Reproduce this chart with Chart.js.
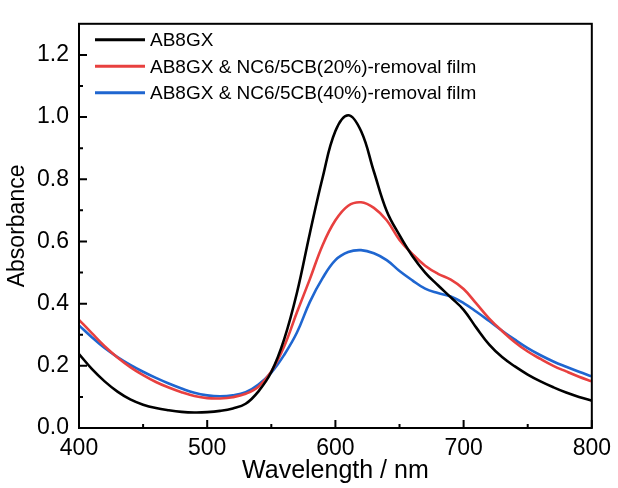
<!DOCTYPE html>
<html>
<head>
<meta charset="utf-8">
<script src="https://cdn.jsdelivr.net/npm/chart.js@4.4.1/dist/chart.umd.min.js"></script>
<style>
html,body{margin:0;padding:0;background:#fff;}
#wrap{width:618px;height:488px;}
</style>
</head>
<body>
<div id="wrap"><canvas id="c" width="618" height="488"></canvas></div>
<script>
// ---- data ----
const wavelength = [400,410,420,430,440,450,460,470,480,490,500,510,520,530,540,550,560,570,580,590,600,610,620,630,640,650,660,670,680,690,700,710,720,730,740,750,760,770,780,790,800];
const ab8gx = [0.238,0.190,0.150,0.117,0.092,0.075,0.064,0.057,0.052,0.050,0.051,0.055,0.063,0.078,0.118,0.180,0.285,0.435,0.625,0.805,0.955,1.006,0.955,0.825,0.698,0.620,0.553,0.500,0.459,0.420,0.380,0.322,0.268,0.228,0.198,0.172,0.150,0.131,0.114,0.100,0.088];
const film20 = [0.348,0.305,0.263,0.227,0.196,0.170,0.148,0.130,0.115,0.103,0.096,0.095,0.099,0.110,0.133,0.182,0.262,0.372,0.478,0.588,0.668,0.715,0.726,0.708,0.668,0.605,0.560,0.522,0.496,0.477,0.447,0.400,0.352,0.312,0.276,0.246,0.222,0.200,0.182,0.165,0.150];
const film40 = [0.330,0.292,0.257,0.228,0.203,0.181,0.161,0.143,0.127,0.113,0.105,0.102,0.105,0.115,0.140,0.178,0.235,0.307,0.405,0.482,0.540,0.566,0.572,0.562,0.540,0.505,0.475,0.448,0.434,0.423,0.402,0.374,0.344,0.313,0.284,0.257,0.234,0.214,0.197,0.181,0.166];
const seriesLabels = ["AB8GX","AB8GX & NC6/5CB(20%)-removal film","AB8GX & NC6/5CB(40%)-removal film"];
const xTicks = [400,500,600,700,800];
const xMinor = [450,550,650,750];
const yTicks = [0.0,0.2,0.4,0.6,0.8,1.0,1.2];
const yMinor = [0.1,0.3,0.5,0.7,0.9,1.1];
const xTitle = "Wavelength / nm";
const yTitle = "Absorbance";

const FONT = "'Liberation Sans', Arial, sans-serif";
const colors = ["#000000","#e8403f","#1f66d0"];

function pts(arr){ return wavelength.map((w,i)=>({x:w,y:arr[i]})); }

const framePlugin = {
  id:'frame',
  beforeDraw(chart){
    const ctx=chart.ctx; ctx.save(); ctx.fillStyle='#fff'; ctx.fillRect(0,0,chart.width,chart.height); ctx.restore();
  },
  afterDatasetsDraw(chart){
    const {ctx, chartArea:a, scales} = chart;
    const xs=scales.x, ys=scales.y;
    ctx.save();
    ctx.strokeStyle='#000'; ctx.lineWidth=2;
    ctx.strokeRect(a.left, a.top, a.right-a.left, a.bottom-a.top);
    ctx.lineWidth=2;
    ctx.beginPath();
    xTicks.forEach(v=>{const p=xs.getPixelForValue(v); ctx.moveTo(p,a.bottom); ctx.lineTo(p,a.bottom-8);});
    xMinor.forEach(v=>{const p=xs.getPixelForValue(v); ctx.moveTo(p,a.bottom); ctx.lineTo(p,a.bottom-4);});
    yTicks.forEach(v=>{const p=ys.getPixelForValue(v); ctx.moveTo(a.left,p); ctx.lineTo(a.left+8,p);});
    yMinor.forEach(v=>{const p=ys.getPixelForValue(v); ctx.moveTo(a.left,p); ctx.lineTo(a.left+4,p);});
    ctx.stroke();
    // legend
    const ds = chart.data.datasets;
    ctx.font = "19px " + FONT;
    ctx.textBaseline='middle';
    ctx.textAlign='left';
    ds.forEach((d,i)=>{
      const y = a.top + 16 + i*26.5;
      ctx.strokeStyle=d.borderColor; ctx.lineWidth=3;
      ctx.beginPath(); ctx.moveTo(a.left+16,y); ctx.lineTo(a.left+66,y); ctx.stroke();
      ctx.fillStyle='#000';
      ctx.fillText(d.label, a.left+71, y+1);
    });
    ctx.restore();
  }
};

new Chart(document.getElementById('c'), {
  type:'line',
  data:{
    datasets:[
      {label:seriesLabels[0], data:pts(ab8gx), borderColor:colors[0]},
      {label:seriesLabels[1], data:pts(film20), borderColor:colors[1]},
      {label:seriesLabels[2], data:pts(film40), borderColor:colors[2]}
    ].map(d=>Object.assign(d,{borderWidth:2.6, pointRadius:0, fill:false, tension:0.4}))
  },
  options:{
    responsive:false, animation:false,
    layout:{padding:{left:0,right:26,top:13,bottom:0}},
    plugins:{legend:{display:false}, tooltip:{enabled:false}},
    scales:{
      x:{type:'linear', min:400, max:800,
        afterBuildTicks(s){ s.ticks = xTicks.map(v=>({value:v})); },
        afterFit(s){ s.height = 60; },
        grid:{display:false, drawTicks:false},
        border:{display:false},
        ticks:{padding:7, color:'#000', font:{family:FONT, size:23}, maxRotation:0, autoSkip:false},
        title:{display:true, text:xTitle, color:'#000', font:{family:FONT, size:25}, padding:{top:0,bottom:2}}
      },
      y:{type:'linear', min:0, max:1.3,
        afterBuildTicks(s){ s.ticks = yTicks.map(v=>({value:v})); },
        afterFit(s){ s.width = 79; },
        grid:{display:false, drawTicks:false},
        border:{display:false},
        ticks:{padding:10, color:'#000', font:{family:FONT, size:23}, callback:(v)=>Number(v).toFixed(1)},
        title:{display:true, text:yTitle, color:'#000', font:{family:FONT, size:23}, padding:{top:4,bottom:0}}
      }
    }
  },
  plugins:[framePlugin]
});
</script>
</body>
</html>
